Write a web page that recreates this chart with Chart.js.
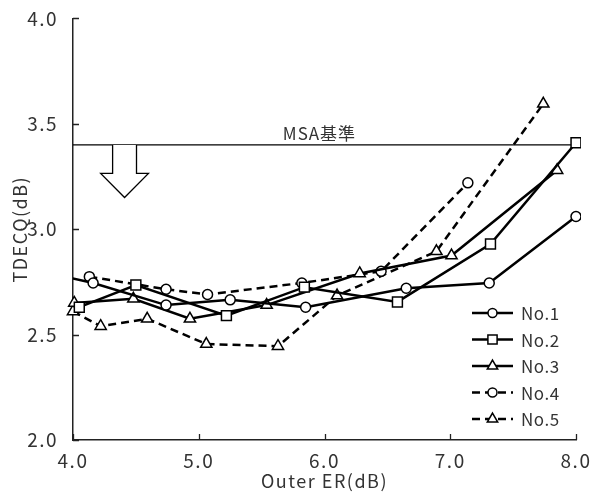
<!DOCTYPE html>
<html>
<head>
<meta charset="utf-8">
<script src="https://cdn.jsdelivr.net/npm/chart.js@4.4.0/dist/chart.umd.min.js"></script>
<style>
  html, body { margin: 0; padding: 0; background: #fff; }
  #wrap { width: 596px; height: 495px; }
</style>
</head>
<body>
<div id="wrap"><canvas id="chart"></canvas></div>
<script>
// values
const xTicks = [4.0, 5.0, 6.0, 7.0, 8.0];
const yTicks = [2.0, 2.5, 3.0, 3.5, 4.0];
const seriesNames = ["No.1", "No.2", "No.3", "No.4", "No.5"];

// points just outside 4.0 / 8.0 only feed the clipped line ends
const no1X = [3.9, 4.16, 4.74, 5.25, 5.85, 6.65, 7.31, 8.0, 8.1];
const no1Y = [2.78, 2.745, 2.64, 2.665, 2.63, 2.72, 2.745, 3.06, 3.1];
const no2X = [4.05, 4.5, 5.22, 5.84, 6.58, 7.32, 8.0, 8.1];
const no2Y = [2.63, 2.735, 2.59, 2.725, 2.655, 2.93, 3.41, 3.48];
const no3X = [4.01, 4.48, 4.93, 5.54, 6.28, 7.01, 7.85];
const no3Y = [2.65, 2.67, 2.575, 2.64, 2.79, 2.875, 3.28];
const no4X = [4.13, 4.74, 5.07, 5.82, 6.45, 7.14];
const no4Y = [2.775, 2.715, 2.69, 2.745, 2.8, 3.22];
const no5X = [4.0, 4.22, 4.59, 5.06, 5.63, 6.1, 6.89, 7.74];
const no5Y = [2.61, 2.54, 2.575, 2.455, 2.445, 2.685, 2.895, 3.595];

const msaLevel = 3.4;
const msaLabel = "MSA基準";
const msaLabelX = 5.96;

// hollow arrow under the MSA line (data units)
const arrowX = 4.41;
const arrowShaftHalf = 0.095;
const arrowHeadHalf = 0.19;
const arrowHeadY = 3.265;
const arrowTipY = 3.15;

const FONT = "'Noto Sans CJK JP', 'Noto Sans', sans-serif";
const INK = "#222";
const TEXT = "#333";
const SPACING = "1.5px";

const toPoints = (xs, ys) => xs.map((x, i) => ({ x: x, y: ys[i] }));
const inRange = (ctx) => ctx.raw && ctx.raw.x >= 4 && ctx.raw.x <= 8;

function series(name, xs, ys, style, dashed, clipLeft) {
  const radius = style === "circle" ? 5 : style === "rect" ? 7 : 6.5;
  return {
    label: name,
    data: toPoints(xs, ys),
    borderColor: "#000",
    borderWidth: 2.5,
    borderDash: dashed ? [8, 5] : [],
    backgroundColor: "#fff",
    pointStyle: style,
    pointRadius: (ctx) => (inRange(ctx) ? radius : 0),
    pointBorderWidth: 1.5,
    pointBorderColor: "#000",
    pointBackgroundColor: "#fff",
    tension: 0,
    clip: { left: clipLeft, top: false, right: 5, bottom: false },
  };
}

const datasets = [
  series(seriesNames[0], no1X, no1Y, "circle", false, 0),
  series(seriesNames[1], no2X, no2Y, "rect", false, 8),
  series(seriesNames[2], no3X, no3Y, "triangle", false, 8),
  series(seriesNames[3], no4X, no4Y, "circle", true, 8),
  series(seriesNames[4], no5X, no5Y, "triangle", true, 8),
  {
    label: "MSA",
    data: [{ x: 4, y: msaLevel }, { x: 8, y: msaLevel }],
    borderColor: "#000",
    borderWidth: 1.3,
    pointRadius: 0,
    order: 10,
  },
];

const letterSpacing = {
  id: "letterSpacing",
  beforeUpdate(chart) { chart.ctx.letterSpacing = SPACING; },
  beforeDraw(chart) { chart.ctx.letterSpacing = SPACING; },
};

const extras = {
  id: "extras",
  afterDatasetsDraw(chart) {
    const { ctx, chartArea, scales: { x, y } } = chart;
    ctx.save();

    // inward ticks
    ctx.strokeStyle = INK;
    ctx.lineWidth = 1.3;
    ctx.beginPath();
    yTicks.forEach((v) => {
      const py = Math.round(y.getPixelForValue(v)) + 0.5;
      ctx.moveTo(chartArea.left, py);
      ctx.lineTo(chartArea.left + 6, py);
    });
    xTicks.forEach((v) => {
      const px = Math.round(x.getPixelForValue(v)) + 0.5;
      ctx.moveTo(px, chartArea.bottom);
      ctx.lineTo(px, chartArea.bottom - 6);
    });
    ctx.stroke();

    // MSA label
    ctx.fillStyle = TEXT;
    ctx.letterSpacing = "1px";
    ctx.font = "17px " + FONT;
    ctx.textAlign = "center";
    ctx.textBaseline = "bottom";
    ctx.fillText(msaLabel, x.getPixelForValue(msaLabelX), y.getPixelForValue(msaLevel) - 3);

    // hollow down arrow
    const top = y.getPixelForValue(msaLevel);
    const head = y.getPixelForValue(arrowHeadY);
    const tip = y.getPixelForValue(arrowTipY);
    const sl = x.getPixelForValue(arrowX - arrowShaftHalf);
    const sr = x.getPixelForValue(arrowX + arrowShaftHalf);
    const hl = x.getPixelForValue(arrowX - arrowHeadHalf);
    const hr = x.getPixelForValue(arrowX + arrowHeadHalf);
    const cx = x.getPixelForValue(arrowX);
    ctx.beginPath();
    ctx.moveTo(sl, top);
    ctx.lineTo(sl, head);
    ctx.lineTo(hl, head);
    ctx.lineTo(cx, tip);
    ctx.lineTo(hr, head);
    ctx.lineTo(sr, head);
    ctx.lineTo(sr, top);
    ctx.fillStyle = "#fff";
    ctx.fill();
    ctx.strokeStyle = "#000";
    ctx.lineWidth = 1.3;
    ctx.stroke();

    // legend, bottom right inside the plot
    const x0 = 472, x1 = 513, rowTop = 313, rowGap = 26.5;
    ctx.letterSpacing = "0.5px";
    ctx.font = "17px " + FONT;
    ctx.textAlign = "left";
    ctx.textBaseline = "middle";
    for (let i = 0; i < seriesNames.length; i++) {
      const ds = chart.data.datasets[i];
      const ry = rowTop + i * rowGap;
      ctx.strokeStyle = "#000";
      ctx.lineWidth = ds.borderWidth;
      ctx.setLineDash(ds.borderDash);
      ctx.beginPath();
      ctx.moveTo(x0, ry);
      ctx.lineTo(x1, ry);
      ctx.stroke();
      ctx.setLineDash([]);
      ctx.fillStyle = "#fff";
      ctx.lineWidth = 1.5;
      const r = ds.pointStyle === "circle" ? 4.5 : ds.pointStyle === "rect" ? 6.5 : 6;
      Chart.helpers.drawPoint(ctx, { pointStyle: ds.pointStyle, radius: r, borderWidth: 1.5, rotation: 0 }, (x0 + x1) / 2, ry);
      ctx.fillStyle = TEXT;
      ctx.fillText(ds.label, x1 + 8, ry + 1);
    }
    ctx.restore();
  },
};

new Chart(document.getElementById("chart"), {
  type: "line",
  data: { datasets: datasets },
  options: {
    responsive: true,
    maintainAspectRatio: false,
    animation: false,
    layout: { padding: { top: 16, right: 20, left: 0, bottom: 0 } },
    plugins: { legend: { display: false }, tooltip: { enabled: false } },
    scales: {
      x: {
        type: "linear",
        min: 4,
        max: 8,
        afterFit: (s) => { s.height = 55; },
        afterBuildTicks: (s) => { s.ticks = xTicks.map((v) => ({ value: v })); },
        grid: { display: false },
        border: { display: true, color: INK, width: 1.5 },
        ticks: {
          color: TEXT,
          padding: 1,
          maxRotation: 0,
          font: { family: FONT, size: 19 },
          callback: (v) => Number(v).toFixed(1),
        },
        title: {
          display: true,
          text: "Outer ER(dB)",
          color: TEXT,
          font: { family: FONT, size: 18 },
          padding: { top: 0, bottom: 3 },
        },
      },
      y: {
        min: 2,
        max: 4,
        afterFit: (s) => { s.width = 73; },
        afterBuildTicks: (s) => { s.ticks = yTicks.map((v) => ({ value: v })); },
        grid: { display: false },
        border: { display: true, color: INK, width: 1.5 },
        ticks: {
          color: TEXT,
          padding: 7,
          font: { family: FONT, size: 19 },
          callback: (v) => Number(v).toFixed(1),
        },
        title: {
          display: true,
          text: "TDECQ(dB)",
          color: TEXT,
          font: { family: FONT, size: 18 },
          padding: { top: 9, bottom: 0 },
        },
      },
    },
  },
  plugins: [letterSpacing, extras],
});
</script>
</body>
</html>
